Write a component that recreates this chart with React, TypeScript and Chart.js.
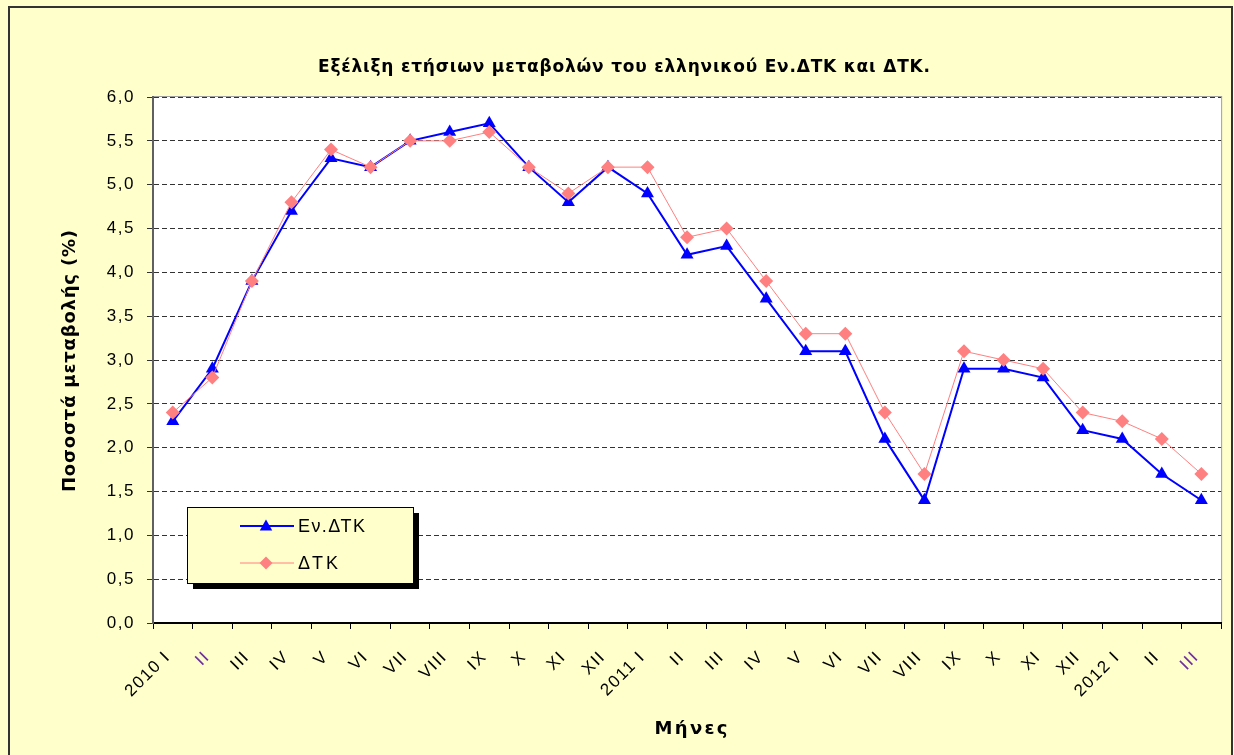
import { useEffect, useRef } from "react";
import { Chart, registerables } from "chart.js";
Chart.register(...registerables);

const categories = [
  "2010 I", "II", "III", "IV", "V", "VI", "VII", "VIII", "IX", "X", "XI", "XII",
  "2011 I", "II", "III", "IV", "V", "VI", "VII", "VIII", "IX", "X", "XI", "XII",
  "2012 I", "II", "III",
];
const hicpValues = [
  2.3, 2.9, 3.9, 4.7, 5.3, 5.2, 5.5, 5.6, 5.7, 5.2, 4.8, 5.2,
  4.9, 4.2, 4.3, 3.7, 3.1, 3.1, 2.1, 1.4, 2.9, 2.9, 2.8, 2.2,
  2.1, 1.7, 1.4,
];
const cpiValues = [
  2.4, 2.8, 3.9, 4.8, 5.4, 5.2, 5.5, 5.5, 5.6, 5.2, 4.9, 5.2,
  5.2, 4.4, 4.5, 3.9, 3.3, 3.3, 2.4, 1.7, 3.1, 3.0, 2.9, 2.4,
  2.3, 2.1, 1.7,
];
const seriesNames = ["Εν.ΔΤΚ", "ΔΤΚ"];
const chartTitle = "Εξέλιξη ετήσιων μεταβολών του ελληνικού Εν.ΔΤΚ και ΔΤΚ.";
const yAxisTitle = "Ποσοστά μεταβολής (%)";
const xAxisTitle = "Μήνες";
const highlightedTickIndexes = [1, 26];

const FONT = "'Liberation Sans', Arial, sans-serif";
const BOLD_FONT = "'DejaVu Sans', Verdana, sans-serif";
const BLUE = "#0000FF";
const PINK = "#FF8080";

function drawTriangle(ctx: CanvasRenderingContext2D, x: number, y: number, w: number, h: number) {
  ctx.beginPath();
  ctx.moveTo(x, y - h / 2);
  ctx.lineTo(x + w / 2, y + h / 2);
  ctx.lineTo(x - w / 2, y + h / 2);
  ctx.closePath();
  ctx.fill();
}
function drawDiamond(ctx: CanvasRenderingContext2D, x: number, y: number, r: number) {
  ctx.beginPath();
  ctx.moveTo(x, y - r);
  ctx.lineTo(x + r, y);
  ctx.lineTo(x, y + r);
  ctx.lineTo(x - r, y);
  ctx.closePath();
  ctx.fill();
}

// draw text starting at cx - targetWidth/2 so that it spans targetWidth using letter spacing
function fitText(ctx: any, text: string, font: string, cx: number, y: number, targetWidth: number) {
  ctx.font = font;
  ctx.letterSpacing = "0px";
  const w = ctx.measureText(text).width;
  const n = Array.from(text).length;
  const ls = (targetWidth - w) / (n - 1);
  ctx.letterSpacing = `${ls}px`;
  ctx.textAlign = "left";
  ctx.textBaseline = "alphabetic";
  ctx.fillText(text, cx - targetWidth / 2, y);
  ctx.letterSpacing = "0px";
}

const decorPlugin = {
  id: "decor",
  beforeDraw(chart: any) {
    const { ctx, width, height, chartArea } = chart;
    ctx.save();
    ctx.fillStyle = "#FFFFCC";
    ctx.fillRect(0, 0, width, height);
    ctx.strokeStyle = "#333333";
    ctx.lineWidth = 2;
    ctx.strokeRect(9, 7, 1223, 780);
    ctx.fillStyle = "#FFFFFF";
    ctx.fillRect(chartArea.left, chartArea.top, chartArea.right - chartArea.left, chartArea.bottom - chartArea.top);
    ctx.strokeStyle = "#A0A0A0";
    ctx.lineWidth = 1;
    ctx.strokeRect(chartArea.left + 0.5, chartArea.top - 0.5, chartArea.right - chartArea.left, chartArea.bottom - chartArea.top);
    ctx.restore();
    ctx.letterSpacing = "1.5px";
  },
  beforeDatasetsDraw(chart: any) {
    chart.ctx.letterSpacing = "0px";
  },
  afterDraw(chart: any) {
    const { ctx } = chart;
    ctx.save();
    ctx.letterSpacing = "0px";
    ctx.fillStyle = "#000000";
    // Title
    fitText(ctx, chartTitle, `bold 17px ${BOLD_FONT}`, 624, 72, 612);
    // Y axis title
    ctx.save();
    ctx.translate(75, 361);
    ctx.rotate(-Math.PI / 2);
    fitText(ctx, yAxisTitle, `bold 18px ${BOLD_FONT}`, 0, 0, 262);
    ctx.restore();
    // X axis title
    fitText(ctx, xAxisTitle, `bold 18px ${BOLD_FONT}`, 691, 734, 73);
    // Legend
    const lx = 187, ly = 507, lw = 226, lh = 76;
    ctx.fillStyle = "#000000";
    ctx.fillRect(lx + 6, ly + 6, lw, lh);
    ctx.fillStyle = "#FFFFCC";
    ctx.fillRect(lx, ly, lw, lh);
    ctx.strokeStyle = "#000000";
    ctx.lineWidth = 1;
    ctx.strokeRect(lx + 0.5, ly + 0.5, lw, lh);
    const rows = [
      { y: 526, color: BLUE, width: 2, marker: "tri", text: seriesNames[0], tw: 67 },
      { y: 563, color: PINK, width: 1, marker: "dia", text: seriesNames[1], tw: 40 },
    ];
    rows.forEach((row) => {
      ctx.strokeStyle = row.color;
      ctx.lineWidth = row.width;
      ctx.beginPath();
      ctx.moveTo(240, row.y);
      ctx.lineTo(294, row.y);
      ctx.stroke();
      ctx.fillStyle = row.color;
      if (row.marker === "tri") drawTriangle(ctx, 266, row.y - 1, 12.5, 11);
      else drawDiamond(ctx, 266, row.y, 6.5);
      ctx.fillStyle = "#000000";
      fitText(ctx, row.text, `18px ${FONT}`, 298 + row.tw / 2, row.y + 6, row.tw);
    });
    ctx.restore();
  },
};

export default function App() {
  const canvasRef = useRef<HTMLCanvasElement | null>(null);
  useEffect(() => {
    if (!canvasRef.current) return;
    const chart = new Chart(canvasRef.current, {
      type: "line",
      data: {
        labels: categories,
        datasets: [
          {
            label: seriesNames[0],
            data: hicpValues,
            borderColor: BLUE,
            backgroundColor: BLUE,
            borderWidth: 2,
            pointStyle: "triangle",
            pointRadius: 7.5,
            pointBorderWidth: 0,
            tension: 0,
            order: 2,
          },
          {
            label: seriesNames[1],
            data: cpiValues,
            borderColor: PINK,
            backgroundColor: PINK,
            borderWidth: 1,
            pointStyle: "rectRot",
            pointRadius: 7,
            pointBorderWidth: 0,
            tension: 0,
            order: 1,
          },
        ],
      },
      options: {
        animation: false,
        responsive: false,
        maintainAspectRatio: false,
        layout: { padding: { top: 97, right: 12, left: 0, bottom: 0 } },
        plugins: {
          legend: { display: false },
          title: { display: false },
          tooltip: { enabled: false },
        },
        scales: {
          x: {
            type: "category",
            offset: true,
            afterFit: (scale: any) => {
              scale.height = 132;
            },
            grid: {
              offset: true,
              drawOnChartArea: false,
              drawTicks: true,
              tickLength: 6,
              color: "#000000",
            },
            border: { color: "#000000", width: 2 },
            ticks: {
              autoSkip: false,
              maxRotation: 45,
              minRotation: 45,
              padding: 18,
              labelOffset: -5,
              font: { family: FONT, size: 17 },
              color: (c: any) => (highlightedTickIndexes.includes(c.index) ? "#7030A0" : "#000000"),
            },
          },
          y: {
            min: 0,
            max: 6,
            afterFit: (scale: any) => {
              scale.width = 153;
            },
            grid: {
              color: "#333333",
              lineWidth: 1,
              tickLength: 6,
              drawTicks: true,
              tickColor: "#333333",
            },
            border: { color: "#606060", width: 2, dash: [5, 3] },
            ticks: {
              stepSize: 0.5,
              padding: 12,
              font: { family: FONT, size: 17 },
              color: "#000000",
              callback: (v: any) => Number(v).toFixed(1).replace(".", ","),
            },
          },
        },
      },
      plugins: [decorPlugin],
    } as any);
    return () => chart.destroy();
  }, []);
  return (
    <div style={{ position: "absolute", left: 0, top: 0, width: 1234, height: 755 }}>
      <canvas ref={canvasRef} width={1234} height={755} style={{ width: 1234, height: 755 }} />
    </div>
  );
}
